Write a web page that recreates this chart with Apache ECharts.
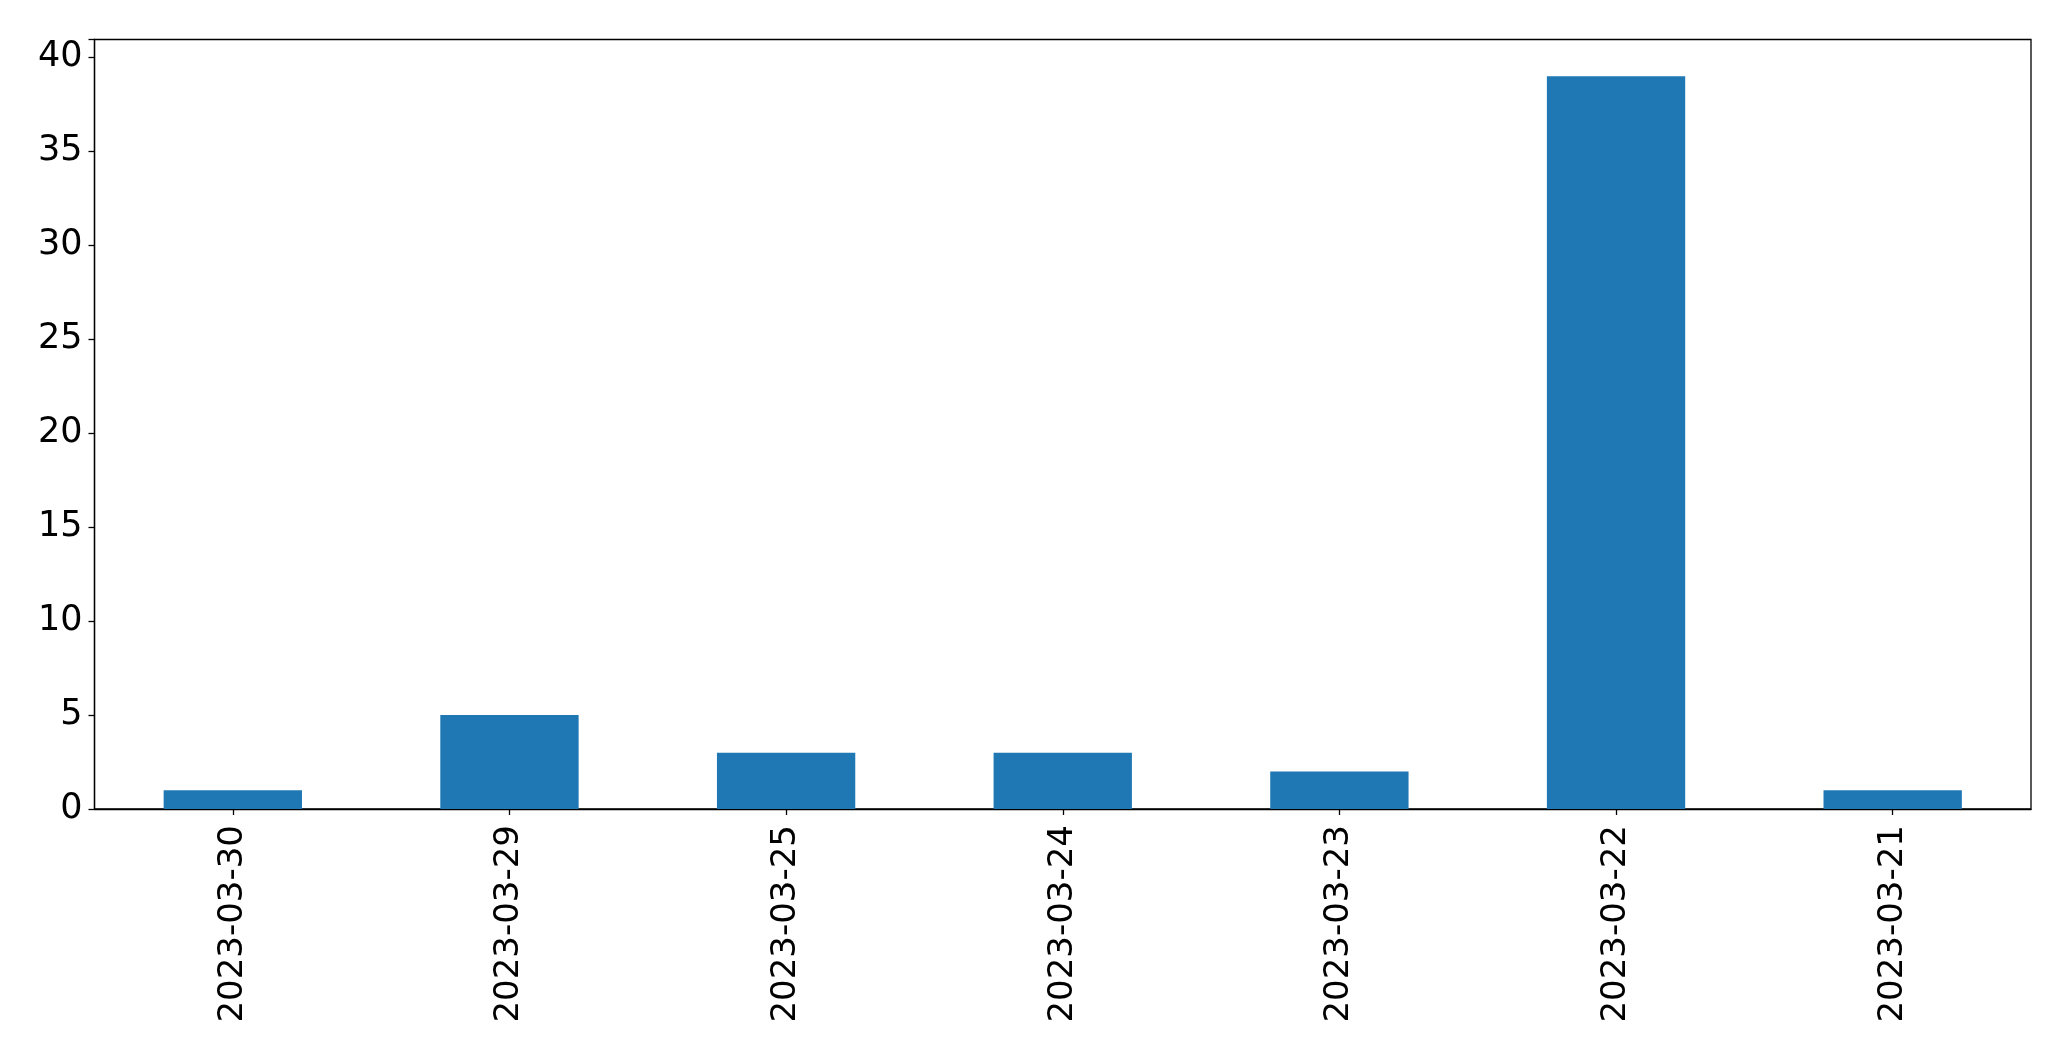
<!DOCTYPE html>
<html><head><meta charset="utf-8">
<script src="https://cdn.jsdelivr.net/npm/echarts@6/dist/echarts.min.js"></script>
<style>html,body{margin:0;padding:0;background:#fff}#c{width:2071px;height:1061px}</style>
</head><body><div id="c"></div>
<script>
const categories = ["2023-03-30","2023-03-29","2023-03-25","2023-03-24","2023-03-23","2023-03-22","2023-03-21"];
const values = [1, 5, 3, 3, 2, 39, 1];
const yTicks = [0, 5, 10, 15, 20, 25, 30, 35, 40];

const chart = echarts.init(document.getElementById('c'));
const font = 'DejaVu Sans';
chart.setOption({
  animation: false,
  backgroundColor: '#fff',
  grid: {left: 94.5, right: 40, top: 39.5, bottom: 252, show: true, borderColor: '#000', borderWidth: 1.3, containLabel: false},
  xAxis: {
    type: 'category', data: categories,
    axisLine: {show: true, lineStyle: {color: '#000', width: 1.3}},
    axisTick: {show: true, alignWithLabel: true, length: 6, lineStyle: {color: '#000', width: 1.3}},
    axisLabel: {rotate: 90, color: '#000', fontFamily: font, fontSize: 34, margin: 16, interval: 0},
    splitLine: {show: false}
  },
  yAxis: {
    type: 'value', min: 0, max: 40.95, interval: 5,
    axisLine: {show: true, lineStyle: {color: '#000', width: 1.3}},
    axisTick: {show: true, length: 6, lineStyle: {color: '#000', width: 1.3}},
    axisLabel: {color: '#000', fontFamily: font, fontSize: 35, margin: 12, verticalAlign: 'middle', padding: [6, 0, 0, 0],
      formatter: v => yTicks.includes(v) ? String(v) : ''},
    splitLine: {show: false}
  },
  series: [{type: 'bar', data: values, barWidth: '50%', itemStyle: {color: '#1f77b4'}}]
});
</script></body></html>
